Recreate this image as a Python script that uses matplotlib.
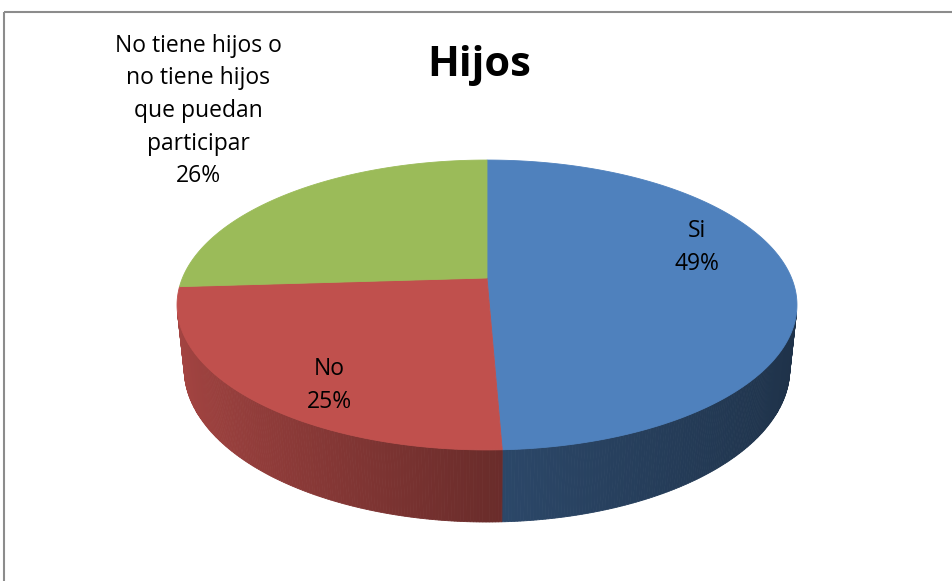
"""3-D pie chart: Hijos."""

import matplotlib

matplotlib.use("Agg")

import matplotlib.pyplot as plt
import numpy as np
from matplotlib.colors import to_rgb
from matplotlib.patches import Polygon, Rectangle

title = "Hijos"
categories = ["Si", "No", "No tiene hijos o\nno tiene hijos\nque puedan\nparticipar"]
values = [38, 19, 20]
colors = ["#4f81bd", "#c0504d", "#9bbb59"]

# layout of the canvas, in pixels (953x581)
label_anchor = [(697, 237), (329, 375), (198, 52)]
line_step = 32.5

# view of the disc: center on canvas, focal length, camera distance, elevation, thickness
CX, CY = 487.0, 278.0
FOCAL = 1453.0
DIST = 4.771
ELEV = np.radians(27.35)
DEPTH = 0.2375


def project(theta, r=1.0, down=0.0):
    """theta in degrees, clockwise from the back of the pie."""
    t = np.radians(theta)
    x = r * np.sin(t)
    back = r * np.cos(t)
    up = back * np.sin(ELEV) - down * np.cos(ELEV)
    dist = DIST + back * np.cos(ELEV) + down * np.sin(ELEV)
    return CX + FOCAL * x / dist, CY - FOCAL * up / dist


def side_shade(theta):
    s = np.sin(np.radians(theta))
    return np.interp(s, [-1.0, 0.0, 1.0], [0.86, 0.56, 0.38])


fig = plt.figure(figsize=(9.53, 5.81), dpi=100)
ax = fig.add_axes([0, 0, 1, 1])
ax.set_xlim(0, 953)
ax.set_ylim(581, 0)
ax.axis("off")

ax.add_patch(Rectangle((4.5, 11.5), 1200, 1200, facecolor="none", edgecolor="#8c8c8c", linewidth=1.5))

total = float(sum(values))
bounds = np.concatenate([[0.0], np.cumsum(values)]) / total * 360.0

# visible part of the side wall
limit = np.degrees(np.arccos(-1.0 / (DIST * np.cos(ELEV))))
for start, end, color in zip(bounds[:-1], bounds[1:], colors):
    lo, hi = max(start, limit), min(end, 360.0 - limit)
    if hi <= lo:
        continue
    steps = np.linspace(lo, hi, int(np.ceil((hi - lo) * 2)) + 1)
    for a, b in zip(steps[:-1], steps[1:]):
        quad = [project(a), project(b), project(b, down=DEPTH), project(a, down=DEPTH)]
        shaded = np.array(to_rgb(color)) * side_shade((a + b) / 2)
        ax.add_patch(Polygon(quad, closed=True, facecolor=shaded, edgecolor=shaded, linewidth=0.6))

# top faces
for start, end, color in zip(bounds[:-1], bounds[1:], colors):
    arc = np.linspace(start, end, int(np.ceil(end - start)) * 2 + 2)
    pts = [project(0.0, r=0.0)] + [project(t) for t in arc]
    ax.add_patch(Polygon(pts, closed=True, facecolor=color, edgecolor=color, linewidth=0.6))

ax.text(479, 76, title, ha="center", va="baseline", fontsize=30, fontweight="bold", family="Open Sans")

for name, value, (lx, ly) in zip(categories, values, label_anchor):
    lines = name.split("\n") + [f"{value / total:.0%}"]
    for i, line in enumerate(lines):
        ax.text(lx, ly + i * line_step, line, ha="center", va="baseline", fontsize=16.5,
                family="Open Sans", color="black")

fig.savefig("out.png", dpi=100)
